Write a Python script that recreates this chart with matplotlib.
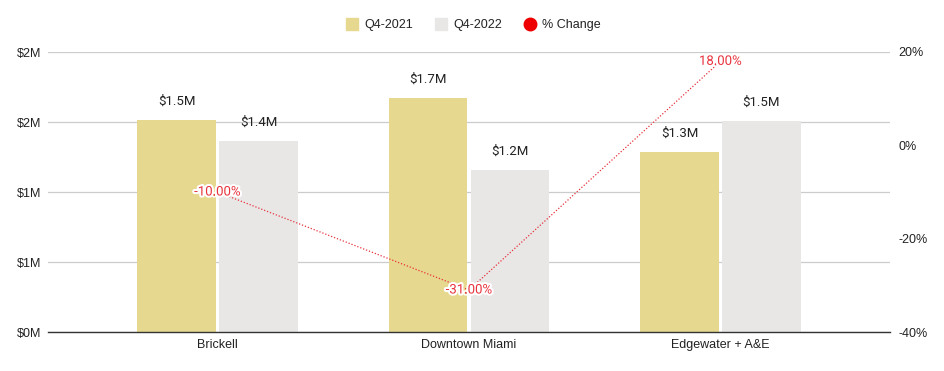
import matplotlib
matplotlib.use("Agg")
import matplotlib.pyplot as plt
import matplotlib.patheffects as pe
import numpy as np
from matplotlib.lines import Line2D

plt.rcParams["font.family"] = ["Roboto", "DejaVu Sans"]

# ---------------------------------------------------------------------------
# data
# ---------------------------------------------------------------------------
areas = ["Brickell", "Downtown Miami", "Edgewater + A&E"]
q4_2021 = [1.514, 1.671, 1.286]      # $M
q4_2022 = [1.364, 1.157, 1.507]      # $M
q4_2021_labels = ["$1.5M", "$1.7M", "$1.3M"]
q4_2022_labels = ["$1.4M", "$1.2M", "$1.5M"]
pct_change = [-10.0, -31.0, 18.0]

left_ticks = [0, 0.5, 1.0, 1.5, 2.0]
left_tick_labels = ["$0M", "$1M", "$1M", "$2M", "$2M"]
right_ticks = [-40, -20, 0, 20]

GOLD = "#E6D88F"
GREY = "#E8E7E6"
RED = "#E8323C"
TEXT = "#222222"
AXFONT = ["Liberation Sans", "DejaVu Sans"]

fig = plt.figure(figsize=(9.44, 3.71), dpi=100)
ax = fig.add_axes([48 / 944, 1 - 332 / 371, 842 / 944, 280 / 371])

x = np.arange(len(areas))
w = 0.314
gap = 0.006
bars_a = ax.bar(x - w / 2 - gap, q4_2021, w, color=GOLD, zorder=2)
bars_b = ax.bar(x + w / 2 + gap, q4_2022, w, color=GREY, zorder=2)

for bars, labels in ((bars_a, q4_2021_labels), (bars_b, q4_2022_labels)):
    for bar, lab in zip(bars, labels):
        ax.annotate(lab, (bar.get_x() + bar.get_width() / 2, bar.get_height()),
                    xytext=(0, 9), textcoords="offset points",
                    ha="center", va="bottom", fontsize=9.5, color=TEXT, zorder=4)

ax.set_xlim(-0.674, 2.674)
ax.set_ylim(0, 2.0)
ax.set_yticks(left_ticks)
ax.set_yticklabels(left_tick_labels, family=AXFONT)
ax.set_xticks(x)
ax.set_xticklabels(areas, family=AXFONT)
ax.grid(axis="y", color="#CCCCCC", linewidth=0.9, zorder=0)
ax.tick_params(axis="both", length=0, labelsize=9, colors=TEXT, pad=5)
for s in ("top", "right", "left"):
    ax.spines[s].set_visible(False)
ax.spines["bottom"].set_color("#333333")
ax.spines["bottom"].set_linewidth(1.0)
ax.spines["bottom"].set_zorder(3)

# % change on secondary axis
ax2 = ax.twinx()
ax2.plot(x, pct_change, linestyle=(0, (1, 1.5)), linewidth=0.9, color=RED, zorder=3)
for xi, v in zip(x, pct_change):
    ax2.text(xi, v, f"{v:.2f}%", ha="center", va="center", fontsize=9.5,
             color=RED, zorder=5,
             path_effects=[pe.withStroke(linewidth=3, foreground="white")])
ax2.set_ylim(-40, 20)
ax2.set_yticks(right_ticks)
ax2.set_yticklabels([f"{t}%" for t in right_ticks], family=AXFONT)
ax2.tick_params(axis="y", length=0, labelsize=9, colors=TEXT, pad=6)
for s in ("top", "right", "left", "bottom"):
    ax2.spines[s].set_visible(False)

handles = [
    Line2D([], [], marker="s", linestyle="none", markersize=9, color=GOLD),
    Line2D([], [], marker="s", linestyle="none", markersize=9, color=GREY),
    Line2D([], [], marker="o", linestyle="none", markersize=9, color="#EE0000"),
]
fig.legend(handles, ["Q4-2021", "Q4-2022", "% Change"], loc="center",
           bbox_to_anchor=(0.5, 1 - 25 / 371), ncol=3, frameon=False,
           prop={"family": AXFONT, "size": 9}, handletextpad=0.3,
           handlelength=1.4, columnspacing=1.5, labelcolor=TEXT)

fig.savefig("out.png", dpi=100)
plt.close(fig)
